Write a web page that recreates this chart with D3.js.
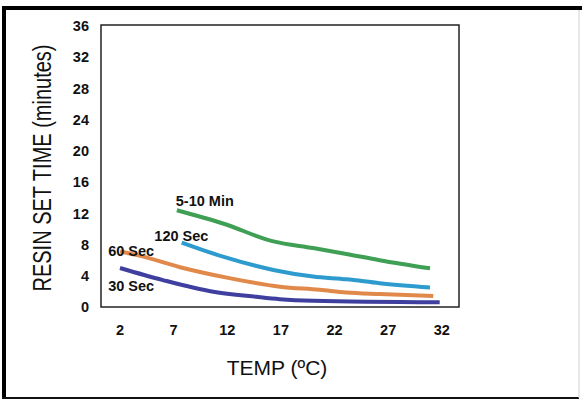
<!DOCTYPE html>
<html>
<head>
<meta charset="utf-8">
<script src="https://d3js.org/d3.v7.min.js"></script>
<style>
  body { margin: 0; background: #fff; }
  svg { display: block; font-family: "Liberation Sans", Arial, sans-serif; }
</style>
</head>
<body>
<div id="chart"></div>
<script>
// series: temperature (°C) and resin set time (minutes)
var seriesNames = ["5-10 Min", "120 Sec", "60 Sec", "30 Sec"];
var seriesColors = ["#3f9f55", "#2e9bcf", "#e0894a", "#3f3f9f"];

var temp510 = [7.3, 11.6, 16.3, 20.0, 23.1, 26.2, 30.9];
var time510 = [12.4, 10.7, 8.4, 7.55, 6.8, 6.0, 4.95];

var temp120 = [7.75, 11.6, 16.3, 20.0, 23.1, 26.2, 30.9];
var time120 = [8.25, 6.45, 4.75, 3.9, 3.55, 3.05, 2.5];

var temp60 = [2, 3.6, 7.6, 12.2, 16.9, 20.6, 23.1, 26.2, 31.2];
var time60 = [7.1, 6.65, 5.1, 3.7, 2.6, 2.2, 1.85, 1.65, 1.4];

var temp30 = [2, 6.0, 10.7, 14.7, 16.9, 20.0, 31.8];
var time30 = [5.0, 3.45, 1.95, 1.3, 1.0, 0.8, 0.6];

var xTicks = [2, 7, 12, 17, 22, 27, 32];
var yTicks = [0, 4, 8, 12, 16, 20, 24, 28, 32, 36];

var allTemps = [temp510, temp120, temp60, temp30];
var allTimes = [time510, time120, time60, time30];

var width = 582, height = 401;
var plot = { left: 101, top: 25, right: 459, bottom: 307 };

var svg = d3.select("#chart").append("svg")
    .attr("width", width)
    .attr("height", height);

// outer frame, heavier on top and left like the scan
svg.append("line").attr("x1", 2).attr("x2", 582).attr("y1", 8).attr("y2", 8)
    .attr("stroke", "#000").attr("stroke-width", 4);
svg.append("line").attr("x1", 4).attr("x2", 4).attr("y1", 6).attr("y2", 399)
    .attr("stroke", "#000").attr("stroke-width", 4);
svg.append("line").attr("x1", 2).attr("x2", 579).attr("y1", 398).attr("y2", 398)
    .attr("stroke", "#111").attr("stroke-width", 2);
svg.append("line").attr("x1", 579).attr("x2", 579).attr("y1", 10).attr("y2", 398)
    .attr("stroke", "#d0d0d0").attr("stroke-width", 1);

var x = d3.scaleLinear()
    .domain([0.23, 33.6])
    .range([plot.left, plot.right]);

var y = d3.scaleLinear()
    .domain([0, 36])
    .range([plot.bottom, plot.top + 1]);

// plot box
svg.append("rect")
    .attr("x", plot.left)
    .attr("y", plot.top)
    .attr("width", plot.right - plot.left)
    .attr("height", plot.bottom - plot.top)
    .attr("fill", "#fff")
    .attr("stroke", "#222")
    .attr("stroke-width", 1.5);

// tick labels, no tick marks
svg.append("g").selectAll("text")
    .data(yTicks)
    .enter().append("text")
    .attr("x", 89)
    .attr("y", function (d) { return y(d); })
    .attr("dy", "0.36em")
    .attr("text-anchor", "end")
    .style("font-size", "14.5px")
    .style("font-weight", "bold")
    .style("fill", "#111")
    .text(function (d) { return d; });

svg.append("g").selectAll("text")
    .data(xTicks)
    .enter().append("text")
    .attr("x", function (d) { return x(d); })
    .attr("y", 335)
    .attr("text-anchor", "middle")
    .style("font-size", "14.5px")
    .style("font-weight", "bold")
    .style("fill", "#111")
    .text(function (d) { return d; });

// axis titles
svg.append("text")
    .attr("x", 277)
    .attr("y", 375)
    .attr("text-anchor", "middle")
    .style("font-size", "21px")
    .style("fill", "#111")
    .text("TEMP (ºC)");

svg.append("text")
    .attr("transform", "translate(51,168) rotate(-90) scale(1,1.3)")
    .attr("text-anchor", "middle")
    .style("font-size", "20px")
    .style("fill", "#111")
    .text("RESIN SET TIME (minutes)");

// curves
var line = d3.line()
    .x(function (d) { return x(d[0]); })
    .y(function (d) { return y(d[1]); })
    .curve(d3.curveMonotoneX);

var lines = svg.append("g");
seriesNames.forEach(function (name, i) {
    var pts = d3.zip(allTemps[i], allTimes[i]);
    lines.append("path")
        .datum(pts)
        .attr("d", line)
        .attr("fill", "none")
        .attr("stroke", seriesColors[i])
        .attr("stroke-width", 4)
        .attr("stroke-linejoin", "round");
});

// series labels, sat next to the start of each curve
var labelPos = [
    { x: 7.2, y: 12.9 },
    { x: 5.2, y: 8.5 },
    { x: 0.9, y: 6.5 },
    { x: 0.9, y: 2.05 }
];
svg.append("g").selectAll("text")
    .data(seriesNames)
    .enter().append("text")
    .attr("x", function (d, i) { return x(labelPos[i].x); })
    .attr("y", function (d, i) { return y(labelPos[i].y); })
    .style("font-size", "14.5px")
    .style("font-weight", "bold")
    .style("fill", "#111")
    .text(function (d) { return d; });
</script>
</body>
</html>
